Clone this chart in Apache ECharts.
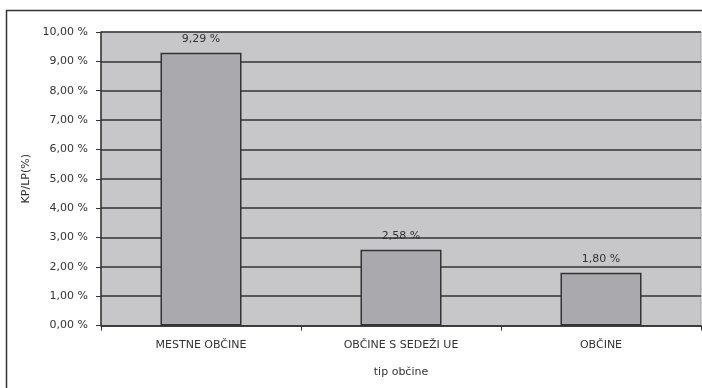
<!DOCTYPE html>
<html>
<head>
<meta charset="utf-8">
<script src="https://cdn.jsdelivr.net/npm/echarts@6/dist/echarts.min.js"></script>
<style>
  html, body { margin: 0; padding: 0; background: #ffffff; }
  #chart { width: 702px; height: 388px; }
</style>
</head>
<body>
<div id="chart"></div>
<script>
// Share of KP/LP by municipality type
const categories = ['MESTNE OBČINE', 'OBČINE S SEDEŽI UE', 'OBČINE'];
const values = [9.29, 2.58, 1.80];
const yTicks = [0, 1, 2, 3, 4, 5, 6, 7, 8, 9, 10];
const yAxisName = 'KP/LP(%)';
const xAxisName = 'tip občine';

const fmt = v => v.toFixed(2).replace('.', ',') + ' %';
const font = '"DejaVu Sans", Verdana, sans-serif';

const chart = echarts.init(document.getElementById('chart'), null, { renderer: 'canvas' });
chart.setOption({
  animation: false,
  backgroundColor: '#ffffff',
  textStyle: { fontFamily: font },
  // frame around the chart (top and left edges lie inside the page)
  graphic: [
    {
      type: 'polyline',
      shape: { points: [[6.5, 388], [6.5, 10.5], [702, 10.5]] },
      style: { fill: 'none', stroke: '#333333', lineWidth: 1.5 },
      z: 100
    }
  ],
  grid: {
    left: 101, right: 1, top: 32, bottom: 62.5,
    show: true, backgroundColor: '#c7c7c9', borderColor: '#a0a0a0', borderWidth: 1
  },
  xAxis: {
    type: 'category',
    data: categories,
    name: xAxisName,
    nameLocation: 'middle',
    nameGap: 41,
    nameTextStyle: { color: '#333', fontSize: 11, fontFamily: font },
    axisLine: { lineStyle: { color: '#333', width: 1.5 } },
    axisTick: { show: true, length: 5, alignWithLabel: false, lineStyle: { color: '#333' } },
    axisLabel: { color: '#333', fontSize: 11, margin: 14, fontFamily: font }
  },
  yAxis: {
    type: 'value',
    min: yTicks[0],
    max: yTicks[yTicks.length - 1],
    interval: 1,
    name: yAxisName,
    nameLocation: 'middle',
    nameGap: 65,
    nameRotate: 90,
    nameTextStyle: { color: '#333', fontSize: 11, fontFamily: font },
    axisLine: { show: true, lineStyle: { color: '#333', width: 1.5 } },
    axisTick: { show: true, length: 5, lineStyle: { color: '#333' } },
    axisLabel: { color: '#333', fontSize: 11, margin: 13, formatter: fmt, fontFamily: font },
    splitLine: { show: true, lineStyle: { color: '#333', width: 1.6 } }
  },
  series: [{
    type: 'bar',
    data: values,
    barWidth: '40.5%',
    itemStyle: { color: '#aaaaae', borderColor: '#333', borderWidth: 1.5 },
    label: {
      show: true,
      position: 'top',
      distance: 8,
      color: '#333',
      fontSize: 11,
      fontFamily: font,
      formatter: p => fmt(p.value)
    }
  }]
});
</script>
</body>
</html>
